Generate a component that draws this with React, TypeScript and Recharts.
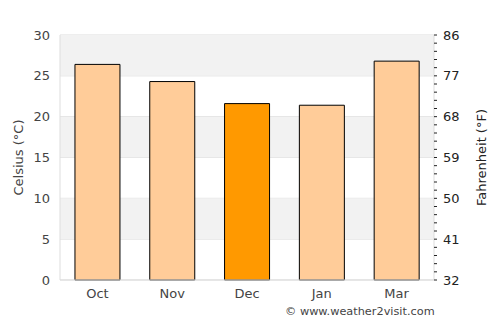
import { ComposedChart, Bar, Line, XAxis, YAxis, CartesianGrid, ReferenceArea, Cell } from "recharts";

const months = ["Oct", "Nov", "Dec", "Jan", "Mar"];
const celsius = [26.4, 24.3, 21.6, 21.4, 26.8];
const highlighted = "Dec";
const celsiusTicks = [0, 5, 10, 15, 20, 25, 30];
// right axis: one mark per °C, label every 5 °C
const minorTicks = [
  0, 1, 2, 3, 4, 5, 6, 7, 8, 9, 10, 11, 12, 13, 14, 15,
  16, 17, 18, 19, 20, 21, 22, 23, 24, 25, 26, 27, 28, 29, 30,
];
const bands = [[5, 10], [15, 20], [25, 30]];

const data = months.map((m, i) => ({ month: m, c: celsius[i] }));

const toF = (c: number) => Math.round(c * 9 / 5 + 32);
const tickFont = { fontSize: 13, fill: "#444", fontFamily: "DejaVu Sans" };

export default function App() {
  return (
    <div style={{ position: "absolute", left: 0, top: 0, width: 500, height: 325, background: "#fff" }}>
      <ComposedChart width={500} height={325} data={data} margin={{ top: 35, right: 0, bottom: 0, left: 0 }} barCategoryGap="20%">
        {bands.map(([a, b]) => (
          <ReferenceArea key={a} yAxisId="c" y1={a} y2={b} fill="#f2f2f2" fillOpacity={1} stroke="none" />
        ))}
        <CartesianGrid yAxisId="c" vertical={false} stroke="#dddddd" />
        <XAxis
          dataKey="month"
          height={45}
          tickLine={false}
          axisLine={{ stroke: "#dddddd" }}
          tick={tickFont}
          tickMargin={3}
        />
        <YAxis
          yAxisId="c"
          orientation="left"
          width={60}
          domain={[0, 30]}
          ticks={celsiusTicks}
          tickLine={false}
          axisLine={{ stroke: "#dddddd" }}
          tick={tickFont}
          tickMargin={4}
          label={{ value: "Celsius (°C)", angle: -90, position: "insideLeft", dx: 13, style: { textAnchor: "middle", fontSize: 13, fill: "#444", fontFamily: "DejaVu Sans" } }}
        />
        <YAxis
          yAxisId="f"
          orientation="right"
          width={66}
          domain={[0, 30]}
          ticks={minorTicks}
          interval={0}
          tickSize={3}
          tickLine={{ stroke: "#222" }}
          axisLine={{ stroke: "#dddddd" }}
          tick={{ ...tickFont, fill: "#222" }}
          tickMargin={6}
          tickFormatter={(v: number) => (v % 5 === 0 ? String(toF(v)) : "")}
          label={{ value: "Fahrenheit (°F)", angle: -90, position: "insideRight", dx: -14, style: { textAnchor: "middle", fontSize: 13, fill: "#222", fontFamily: "DejaVu Sans" } }}
        />
        <Bar yAxisId="c" dataKey="c" stroke="#000" strokeWidth={1} isAnimationActive={false}>
          {data.map((d) => (
            <Cell key={d.month} fill={d.month === highlighted ? "#ff9900" : "#ffcc99"} />
          ))}
        </Bar>
        <Line yAxisId="f" dataKey="c" stroke="none" dot={false} activeDot={false} legendType="none" isAnimationActive={false} />
      </ComposedChart>
      <div style={{ position: "absolute", left: 285, top: 305, fontSize: 11.3, color: "#444", fontFamily: "DejaVu Sans", whiteSpace: "nowrap" }}>
        © www.weather2visit.com
      </div>
    </div>
  );
}
